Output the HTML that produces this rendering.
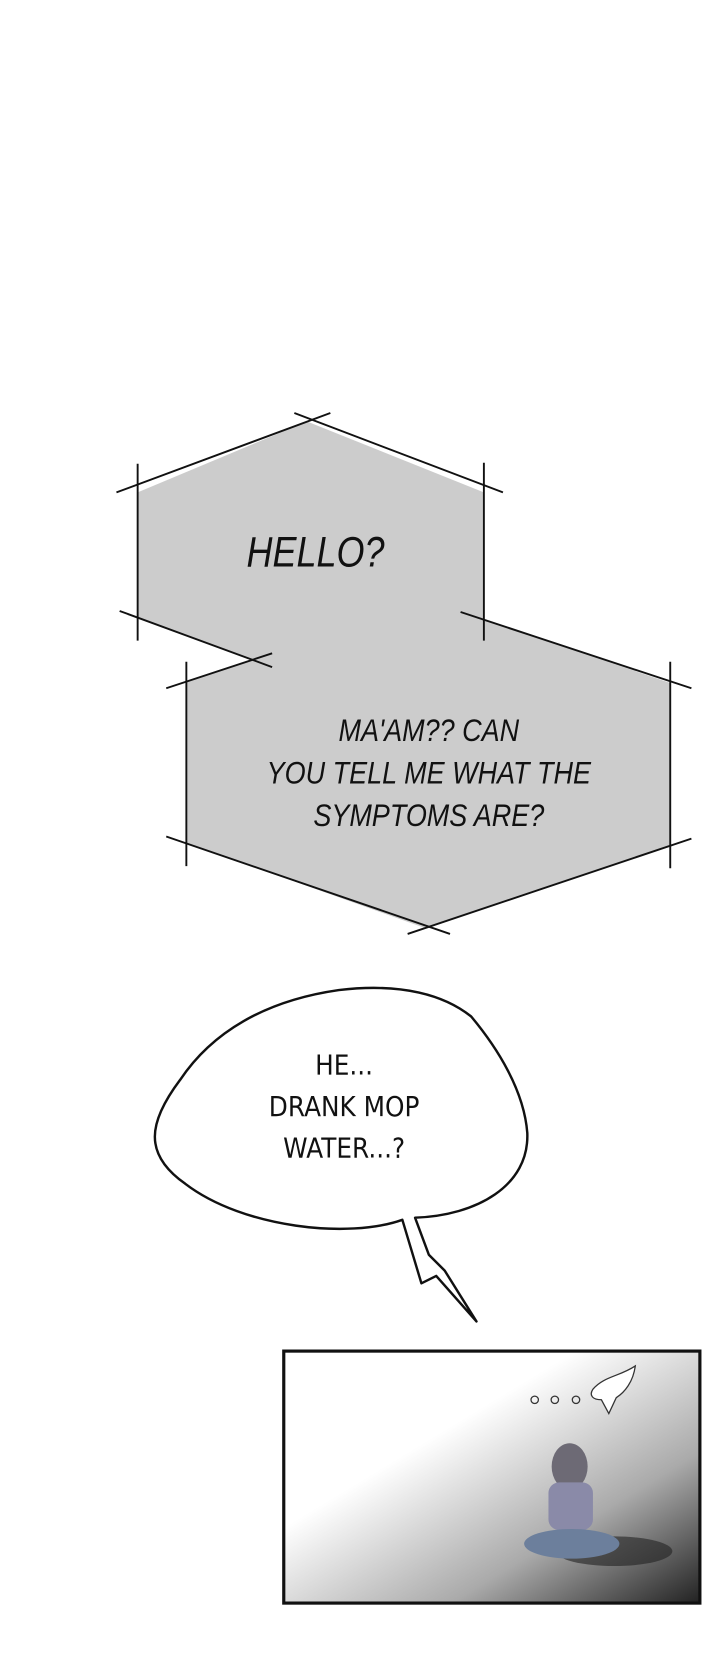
<!DOCTYPE html>
<html><head><meta charset="utf-8"><style>
html,body{margin:0;padding:0;background:#fff;}
body{width:720px;height:1655px;position:relative;overflow:hidden;font-family:"Liberation Sans",sans-serif;}
</style></head><body>
<svg width="720" height="1655" viewBox="0 0 680 1563" style="position:absolute;left:0;top:0">
<defs>
<linearGradient id="g" x1="0" y1="0" x2="1" y2="1">
<stop offset="0.35" stop-color="#fff"/><stop offset="0.7" stop-color="#aaa"/><stop offset="1" stop-color="#222"/>
</linearGradient>
</defs>
<polygon points="130,465 290,398 457,465 457,585 633,645 633,799 400,876 176,796 176,644 238,623 130,583" fill="#cccccc"/>
<g stroke="#111" stroke-width="1.8" fill="none">
<line x1="110" y1="465" x2="312" y2="390"/>
<line x1="278" y1="390" x2="475" y2="465"/>
<line x1="130" y1="438" x2="130" y2="605"/>
<line x1="457" y1="437" x2="457" y2="605"/>
<line x1="113" y1="577" x2="257" y2="630"/>
<line x1="435" y1="578" x2="653" y2="650"/>
<line x1="157" y1="650" x2="257" y2="617"/>
<line x1="176" y1="625" x2="176" y2="818"/>
<line x1="633" y1="625" x2="633" y2="820"/>
<line x1="157" y1="790" x2="425" y2="882"/>
<line x1="385" y1="882" x2="653" y2="792"/>
</g>
<text x="298" y="535" font-size="40" font-style="italic" text-anchor="middle" transform="translate(298 0) scale(0.85 1) translate(-298 0)" fill="#111">HELLO?</text>
<g font-size="30" font-style="italic" text-anchor="middle" fill="#111" transform="translate(405 0) scale(0.85 1) translate(-405 0)">
<text x="405" y="700">MA'AM?? CAN</text>
<text x="405" y="740">YOU TELL ME WHAT THE</text>
<text x="405" y="780">SYMPTOMS ARE?</text>
</g>
<path d="M380,1152 C330,1170 230,1160 175,1118 C135,1090 140,1060 170,1020 C200,975 250,945 320,935 C380,928 420,940 445,960 C470,990 495,1030 498,1070 C500,1120 450,1148 392,1150 L405,1185 L420,1200 L450,1248 L412,1205 L398,1212 Z" fill="#fff" stroke="#111" stroke-width="2.3" stroke-linejoin="round"/>
<g font-size="26" text-anchor="middle" fill="#111" font-family="'DejaVu Sans',sans-serif" transform="translate(325 0) scale(0.9 1) translate(-325 0)">
<text x="325" y="1015">HE...</text>
<text x="325" y="1054">DRANK MOP</text>
<text x="325" y="1093">WATER...?</text>
</g>
<rect x="268" y="1276" width="393" height="238" fill="url(#g)" stroke="#111" stroke-width="3"/>
<ellipse cx="580" cy="1465" rx="55" ry="14" fill="#222" opacity="0.6"/>
<g stroke="#333" stroke-width="1.2" fill="none">
<circle cx="505" cy="1322" r="3.5"/><circle cx="524" cy="1322" r="3.5"/><circle cx="544" cy="1322" r="3.5"/>
</g>
<path d="M560,1312 C570,1300 585,1300 600,1290 C598,1305 590,1315 582,1320 L575,1335 L568,1322 C560,1322 556,1318 560,1312Z" fill="#fff" stroke="#333" stroke-width="1.2"/>
<ellipse cx="538" cy="1385" rx="17" ry="22" fill="#6d6a75"/>
<rect x="518" y="1400" width="42" height="45" rx="10" fill="#8a8aa8"/>
<ellipse cx="540" cy="1458" rx="45" ry="14" fill="#6c7f9c"/>
</svg>
</body></html>
